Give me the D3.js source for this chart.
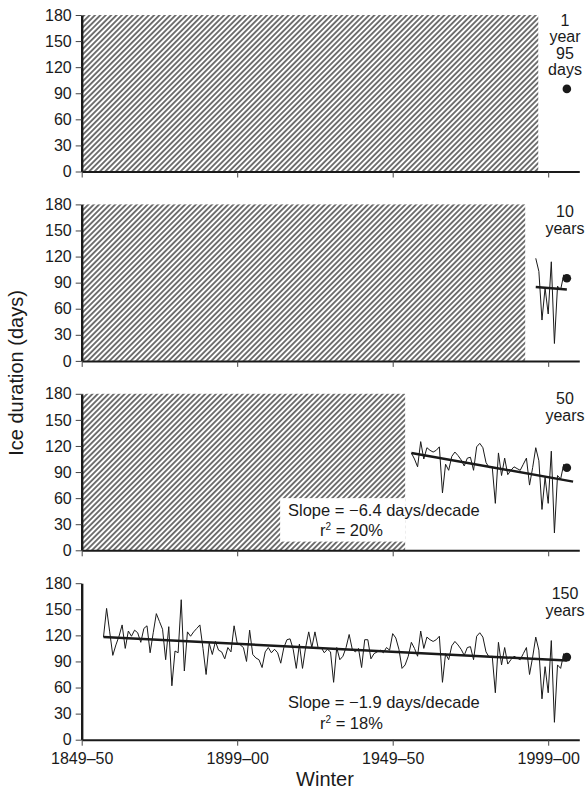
<!DOCTYPE html>
<html>
<head>
<meta charset="utf-8">
<script src="https://cdn.jsdelivr.net/npm/d3@7"></script>
<style>
html, body { margin: 0; padding: 0; background: #fff; }
svg { display: block; font-family: "Liberation Sans", Arial, Helvetica, sans-serif; }
</style>
</head>
<body>
<div id="chart"></div>
<script>
// Ice duration by winter (ending year of the winter)
const winters = d3.range(1857, 2007);
const iceDays = [
  118, 151, 124, 97, 109, 119, 132, 105, 125, 119, 126, 123, 112, 128, 131, 100, 123, 145, 136, 127,
  92, 130, 62, 102, 100, 161, 79, 124, 119, 124, 128, 132, 105, 75, 111, 98, 113, 103, 101, 93,
  106, 101, 131, 111,
  109, 106, 90, 126, 98, 94, 92, 83, 101, 106, 100, 104, 100, 88, 106, 115, 116, 104, 82, 110,
  82, 106, 124, 106, 124, 106, 106, 100, 104, 101, 66, 106, 92, 96, 106, 121, 104, 101, 105, 83,
  115, 115, 93, 99, 101, 103, 100, 106,
  103, 122, 117, 104, 82, 86, 96,
  112, 105, 96, 125, 105, 118, 115, 113, 115, 119, 66, 99, 92, 108, 113, 109, 104, 97, 106, 107,
  92, 119, 123, 118, 101, 95, 96, 54, 112, 86, 106, 87, 92, 96, 94, 92, 99, 106, 75, 95,
  118, 103, 47, 84, 54, 114, 20, 86, 82, 99, 95
];

const xTickYears = [1850, 1900, 1950, 2000];
const xTickLabels = ["1849\u201350", "1899\u201300", "1949\u201350", "1999\u201300"];
const yTicks = [0, 30, 60, 90, 120, 150, 180];

// one entry per panel, top to bottom
const panelFirst = [2006, 1996, 1956, 1857];
const hatchEnd = [1996.8, 1992.6, 1954, null];
const trendX = [null, [1996, 2006], [1956, 2008], [1857, 2006]];
const trendY = [null, [85, 82], [112, 79], [118, 91]];
const spanLabels = [["1", "year", "95", "days"], ["10", "years"], ["50", "years"], ["150", "years"]];
const slopeLabels = [null, null, "Slope = \u22126.4 days/decade", "Slope = \u22121.9 days/decade"];
const r2Labels = [null, null, "20%", "18%"];

const width = 585, height = 789;
const left = 81.7, right = 579.3;
const panelTops = [15, 204.4, 393.8, 583.2];
const panelH = 156.5;
const labelOffset = [11, 13, 10.5, 16];
const ink = "#1a1a1a";

const svg = d3.select("#chart")
   .append("svg")
   .attr("width", width)
   .attr("height", height);

svg.append("defs")
   .append("pattern")
   .attr("id", "hatch")
   .attr("patternUnits", "userSpaceOnUse")
   .attr("width", 3.8)
   .attr("height", 4)
   .attr("patternTransform", "rotate(45)")
   .append("line")
   .attr("x1", 1.9).attr("y1", -1)
   .attr("x2", 1.9).attr("y2", 5)
   .attr("stroke", "#2a2a2a")
   .attr("stroke-width", 1.3);

const x = d3.scaleLinear()
   .domain([1850, 2010])
   .range([left, right]);

const series = winters.map((w, i) => ({ w, v: iceDays[i] }));
const last = series[series.length - 1];

panelTops.forEach((top, p) => {
   const y = d3.scaleLinear()
      .domain([0, 180])
      .range([top + panelH, top]);

   const g = svg.append("g");

   if (hatchEnd[p] != null) {
      g.append("rect")
         .attr("x", x(1850))
         .attr("y", y(180))
         .attr("width", x(hatchEnd[p]) - x(1850))
         .attr("height", y(0) - y(180))
         .attr("fill", "url(#hatch)");
   }

   // white backdrop for the slope note where it sits on the hatch
   if (p === 2) {
      g.append("rect")
         .attr("x", x(1913.8))
         .attr("y", y(60))
         .attr("width", x(hatchEnd[p]) - x(1913.8))
         .attr("height", y(10) - y(60))
         .attr("fill", "#fff");
   }

   const shown = series.filter(d => d.w >= panelFirst[p]);
   if (shown.length > 1) {
      g.append("path")
         .datum(shown)
         .attr("fill", "none")
         .attr("stroke", ink)
         .attr("stroke-width", 1)
         .attr("d", d3.line().x(d => x(d.w)).y(d => y(d.v)));
   }

   if (trendX[p]) {
      g.append("line")
         .attr("x1", x(trendX[p][0]))
         .attr("y1", y(trendY[p][0]))
         .attr("x2", x(trendX[p][1]))
         .attr("y2", y(trendY[p][1]))
         .attr("stroke", ink)
         .attr("stroke-width", 2.5);
   }

   g.append("circle")
      .attr("cx", x(last.w))
      .attr("cy", y(last.v))
      .attr("r", 4.3)
      .attr("fill", ink);

   // axes
   const yAxis = g.append("g")
      .attr("transform", `translate(${left},0)`)
      .call(d3.axisLeft(y).tickValues(yTicks).tickSize(6).tickSizeOuter(0).tickPadding(4));
   yAxis.select(".domain").attr("stroke", ink).attr("stroke-width", 2.4);
   yAxis.selectAll(".tick line").attr("stroke", "#444");
   yAxis.selectAll(".tick text")
      .attr("font-size", 16)
      .attr("font-family", null)
      .attr("fill", ink);

   const xAxis = g.append("g")
      .attr("transform", `translate(0,${y(0)})`)
      .call(d3.axisBottom(x).tickValues(xTickYears).tickSize(6).tickSizeOuter(0).tickPadding(7)
         .tickFormat((d, i) => p === 3 ? xTickLabels[i] : ""));
   xAxis.select(".domain").attr("stroke", ink).attr("stroke-width", 2);
   xAxis.selectAll(".tick line").attr("stroke", "#444");
   xAxis.selectAll(".tick text")
      .attr("font-size", 16)
      .attr("font-family", null)
      .attr("fill", ink);

   // span label at right
   const lab = g.append("text")
      .attr("text-anchor", "middle")
      .attr("font-size", 16)
      .attr("fill", ink);
   spanLabels[p].forEach((t, k) => {
      lab.append("tspan")
         .attr("x", 565)
         .attr("y", top + labelOffset[p] + k * 16.3)
         .text(t);
   });

   if (slopeLabels[p]) {
      const base = top + (p === 2 ? 122 : 125);
      g.append("text")
         .attr("x", 288)
         .attr("y", base)
         .attr("font-size", 16.5)
         .attr("fill", ink)
         .text(slopeLabels[p]);
      const r2 = g.append("text")
         .attr("x", 320)
         .attr("y", base + 20.5)
         .attr("font-size", 16.5)
         .attr("fill", ink);
      r2.append("tspan").text("r");
      r2.append("tspan").attr("font-size", 10).attr("dy", -6).text("2");
      r2.append("tspan").attr("dy", 6).text(" = " + r2Labels[p]);
   }
});

svg.append("text")
   .attr("transform", "translate(23,373) rotate(-90)")
   .attr("text-anchor", "middle")
   .attr("font-size", 20)
   .attr("fill", ink)
   .text("Ice duration (days)");

svg.append("text")
   .attr("x", 325)
   .attr("y", 786)
   .attr("text-anchor", "middle")
   .attr("font-size", 20)
   .attr("fill", ink)
   .text("Winter");
</script>
</body>
</html>
